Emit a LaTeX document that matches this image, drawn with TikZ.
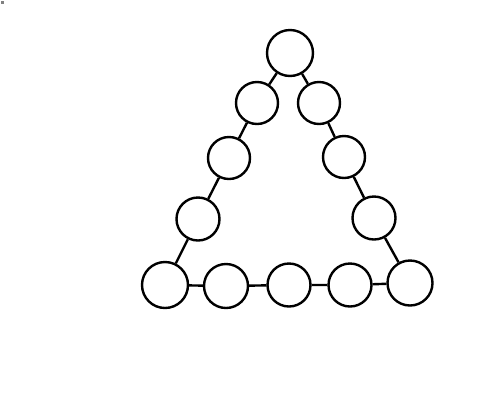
\documentclass[tikz,border=0pt]{standalone}
\usepackage{tikz}

\begin{document}
\begin{tikzpicture}[x=1pt,y=-1pt,line width=2.4pt,
    bead/.style={draw,circle,inner sep=0pt,minimum size=42pt},
    bigbead/.style={bead,minimum size=46pt}]
        \useasboundingbox (0,0) rectangle (500,400);
        \fill[gray] (1,1) rectangle (4,4);
        \node[bigbead] (top) at (290,53) {};
        \node[bead] (l1) at (257,103) {};
        \node[bead] (l2) at (229,158) {};
        \node[bead,minimum size=43pt] (l3) at (198,219) {};
        \node[bigbead] (bl) at (165,285) {};
        \node[bead,minimum size=44pt] (b1) at (226,286) {};
        \node[bead,minimum size=43pt] (b2) at (289,285) {};
        \node[bead,minimum size=43pt] (b3) at (350,285) {};
        \node[bead,minimum size=45pt] (br) at (410,283) {};
        \node[bead] (r1) at (319,103) {};
        \node[bead] (r2) at (344,157) {};
        \node[bead,minimum size=43pt] (r3) at (374,218) {};
        \draw (top) -- (l1) -- (l2) -- (l3) -- (bl);
        \draw (top) -- (r1) -- (r2) -- (r3) -- (br);
        \draw (bl) -- (b1) -- (b2) -- (b3) -- (br);
        % \draw[very thin,color=gray] (0,0) grid[step=50] (500,400);
      \end{tikzpicture}
\end{document}
